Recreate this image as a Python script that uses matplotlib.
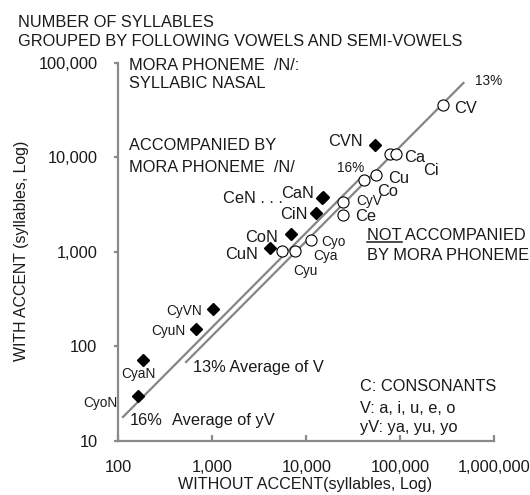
import matplotlib
matplotlib.use('Agg')
import matplotlib.pyplot as plt
from matplotlib.lines import Line2D

plt.rcParams['font.family'] = ['Liberation Sans', 'DejaVu Sans']

# ---------------- data ----------------
# syllables NOT accompanied by mora phoneme /N/
vowel_labels = ['CV', 'Ca', 'Ci', 'Cu', 'Co', 'Ce', 'CyV', 'Cyo', 'Cya', 'Cyu']
vowel_without = [282000, 77600, 90000, 55200, 41100, 24400, 24400, 11200, 7590, 5560]
vowel_with = [35900, 10700, 10700, 6460, 5730, 2450, 3390, 1340, 1010, 1010]

# syllables accompanied by mora phoneme /N/
nasal_labels = ['CVN', 'CeN', 'CaN', 'CiN', 'CoN', 'CuN', 'CyVN', 'CyuN', 'CyaN', 'CyoN']
nasal_without = [53800, 14800, 15200, 12700, 6820, 4110, 1010, 671, 182, 161]
nasal_with = [13400, 3700, 3770, 2550, 1530, 1110, 249, 151, 71, 30]

# average ratio lines (with accent / without accent)
avg_ratio_v = 0.13
avg_ratio_yv = 0.16
line_v_x = [516, 479000]
line_yv_x = [110, 39400]

x_ticks = [100, 1000, 10000, 100000, 1000000]
x_tick_labels = ['100', '1,000', '10,000', '100,000', '1,000,000']
y_ticks = [10, 100, 1000, 10000, 100000]
y_tick_labels = ['10', '100', '1,000', '10,000', '100,000']

# ---------------- layout / style ----------------
W, H = 530, 495
BIG = 11.8
SMALL = 9.8
TXT = '#1a1a1a'
GRAY = '#8a8a8a'

# label offsets in pixels (dx, dy to baseline), alignment, size
vowel_label_style = {
    'CV': (12, -8, 'left', BIG), 'Ca': (14, -7.6, 'left', BIG),
    'Ci': (27, -20.6, 'left', BIG), 'Cu': (12, -8, 'left', BIG),
    'Co': (13, -15.6, 'left', BIG), 'Ce': (12, -5.6, 'left', BIG),
    'CyV': (14, -3.2, 'left', SMALL), 'Cyo': (10, -6, 'left', SMALL),
    'Cya': (18, -8.3, 'left', SMALL), 'Cyu': (11, -23.3, 'left', SMALL),
}
nasal_label_style = {
    'CVN': (-12, -1, 'right', BIG), 'CaN': (-9.5, -1, 'right', BIG),
    'CeN': (-39, -4.5, 'right', BIG), 'CiN': (-8, -5.7, 'right', BIG),
    'CoN': (-12.7, -7.7, 'right', BIG), 'CuN': (-12, -11.3, 'right', BIG),
    'CyVN': (-10.7, -5.7, 'right', SMALL), 'CyuN': (-11, -6, 'right', SMALL),
    'CyaN': (-4.7, -18, 'center', SMALL), 'CyoN': (-20.7, -10.8, 'right', SMALL),
}
nasal_text = {'CeN': 'CeN . . .'}

fig = plt.figure(figsize=(W / 100, H / 100), dpi=100)
ax = fig.add_axes([118.3 / W, 1 - 441 / H, (494.3 - 118.3) / W, (441 - 62.7) / H])
ax.set_xscale('log')
ax.set_yscale('log')
ax.set_xlim(x_ticks[0], x_ticks[-1])
ax.set_ylim(y_ticks[0], y_ticks[-1])

for s in ['top', 'right']:
    ax.spines[s].set_visible(False)
for s in ['left', 'bottom']:
    ax.spines[s].set_color(GRAY)
    ax.spines[s].set_linewidth(1.6)

ax.set_xticks(x_ticks)
ax.set_xticklabels(x_tick_labels)
ax.set_yticks(y_ticks)
ax.set_yticklabels(y_tick_labels)
ax.minorticks_off()
ax.tick_params(axis='x', direction='in', length=4, width=1.6, color=GRAY,
               pad=14, labelsize=BIG, labelcolor=TXT)
ax.tick_params(axis='y', direction='out', length=3, width=1.6, color=GRAY,
               pad=12, labelsize=BIG, labelcolor=TXT)

# average lines
ax.plot(line_v_x, [avg_ratio_v * x for x in line_v_x], color='#858585', lw=1.6,
        zorder=2, solid_capstyle='butt')
ax.plot(line_yv_x, [avg_ratio_yv * x for x in line_yv_x], color='#858585', lw=1.6,
        zorder=2, solid_capstyle='butt')

# markers
ax.plot(vowel_without, vowel_with, linestyle='none', marker='o', markersize=8,
        markerfacecolor='white', markeredgecolor='black', markeredgewidth=0.8,
        zorder=3, clip_on=False)
ax.plot(nasal_without, nasal_with, linestyle='none', marker='D', markersize=5.8,
        markerfacecolor='black', markeredgecolor='black', zorder=3, clip_on=False)

for lab, x, y in zip(vowel_labels, vowel_without, vowel_with):
    dx, dy, ha, fs = vowel_label_style[lab]
    ax.annotate(lab, (x, y), xytext=(dx, dy), textcoords='offset pixels',
                ha=ha, va='baseline', fontsize=fs, color=TXT, annotation_clip=False)
for lab, x, y in zip(nasal_labels, nasal_without, nasal_with):
    dx, dy, ha, fs = nasal_label_style[lab]
    ax.annotate(nasal_text.get(lab, lab), (x, y), xytext=(dx, dy),
                textcoords='offset pixels', ha=ha, va='baseline', fontsize=fs,
                color=TXT, annotation_clip=False)


def ftext(px, py, s, size=BIG, **kw):
    return fig.text(px / W, 1 - py / H, s, fontsize=size, color=TXT,
                    va=kw.pop('va', 'baseline'), ha=kw.pop('ha', 'left'), **kw)


ftext(18, 27, 'NUMBER OF SYLLABLES')
ftext(18, 46, 'GROUPED BY FOLLOWING VOWELS AND SEMI-VOWELS')
ftext(129, 70, 'MORA PHONEME  /N/:')
ftext(129, 88, 'SYLLABIC NASAL')
ftext(129, 150, 'ACCOMPANIED BY')
ftext(129, 171.5, 'MORA PHONEME  /N/')
ftext(337, 172, '16%', size=SMALL)
ftext(475, 85, '13%', size=SMALL)
ftext(367, 240, 'NOT ACCOMPANIED')
not_t = ftext(367, 240, 'NOT', alpha=0)
ftext(367, 260, 'BY MORA PHONEME')
ftext(193, 372, '13% Average of V')
ftext(130, 425, '16%')
ftext(172, 425, 'Average of yV')
ftext(360, 391, 'C: CONSONANTS')
ftext(360, 413, 'V: a, i, u, e, o')
ftext(360, 432, 'yV: ya, yu, yo')
ftext(305, 489, 'WITHOUT ACCENT(syllables, Log)', size=11.6, ha='center')
fig.text(22 / W, 1 - 251 / H, 'WITH ACCENT (syllables, Log)', fontsize=11.4,
         color=TXT, rotation=90, ha='center', va='center')

# underline for "NOT"
fig.canvas.draw()
bb = not_t.get_window_extent()
uy = 1 - 241.8 / H
fig.add_artist(Line2D([bb.x0 / W, bb.x1 / W], [uy, uy], color=TXT, lw=1.1,
                      transform=fig.transFigure))

fig.savefig('out.png', dpi=100)
